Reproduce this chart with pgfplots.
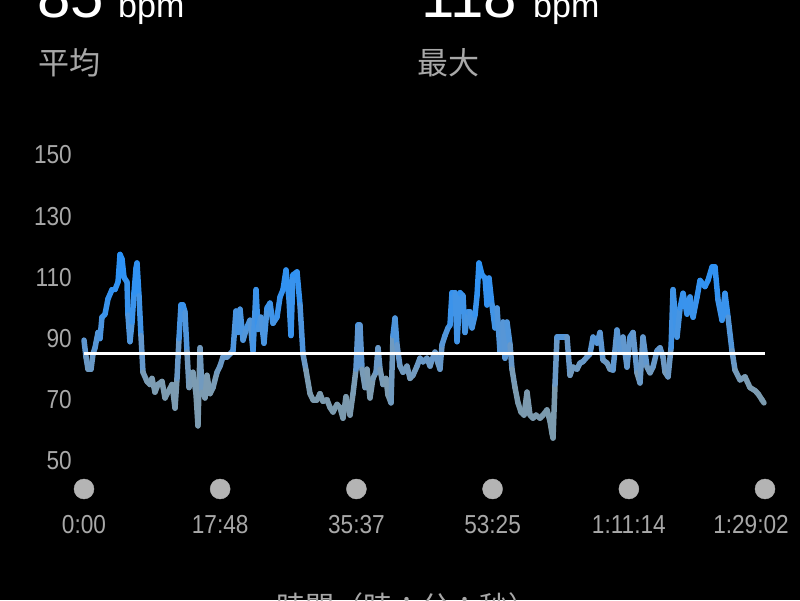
\documentclass[border=0pt]{standalone}
\usepackage{pgfplots}
\pgfplotsset{compat=1.18}
\usepackage{fontspec}
\setmainfont{Liberation Sans}
\newfontfamily\condfont{Liberation Sans}[FakeStretch=0.87]
\newfontfamily\cjk{Noto Sans CJK JP}
\definecolor{lblgrey}{HTML}{A8A8A8}
\definecolor{dotgrey}{HTML}{B4B4B4}
\pgfplotsset{colormap={hr}{rgb255(0pt)=(120,150,165); rgb255(25pt)=(125,156,178); rgb255(35pt)=(100,152,205); rgb255(50pt)=(58,147,236); rgb255(68pt)=(40,145,248)}}
\begin{document}
\begin{tikzpicture}[x=1pt,y=1pt]
\useasboundingbox (0,0) rectangle (800,600);
\fill[black] (0,0) rectangle (800,600);
\clip (0,0) rectangle (800,600);
\node[anchor=base west, inner sep=0pt, text=white, font=\fontsize{60}{60}\selectfont] at (37,582) {85};
\node[anchor=base west, inner sep=0pt, text=white, font=\fontsize{34}{34}\selectfont] at (118,582) {bpm};
\node[anchor=base west, inner sep=0pt, text=white, font=\fontsize{60}{60}\selectfont] at (421,582) {118};
\node[anchor=base west, inner sep=0pt, text=white, font=\fontsize{34}{34}\selectfont] at (533,582) {bpm};
\node[anchor=base west, inner sep=0pt, text=lblgrey, font=\cjk\fontsize{31}{31}\selectfont] at (38,525) {平均};
\node[anchor=base west, inner sep=0pt, text=lblgrey, font=\cjk\fontsize{31}{31}\selectfont] at (417,525) {最大};
\node[anchor=base west, inner sep=0pt, text=lblgrey, font=\cjk\fontsize{29}{29}\selectfont] at (276,-17) {時間（時：分：秒）};
\begin{axis}[
  at={(84pt,139pt)}, anchor=south west, scale only axis,
  width=681pt, height=306pt,
  xmin=0, xmax=89.033, ymin=50, ymax=150,
  clip=false,
  axis line style={draw=none},
  major tick length=0pt, tick style={draw=none},
  ytick={50,70,90,110,130,150},
  xtick={0,17.8,35.617,53.417,71.233,89.033},
  xticklabels={0:00,17:48,35:37,53:25,1:11:14,1:29:02\hspace*{28pt}},
  /pgf/number format/assume math mode=true,
  ticklabel style={font=\condfont\fontsize{26}{26}\selectfont, text=lblgrey, inner sep=0pt},
  xticklabel style={anchor=base, yshift=-72pt},
  yticklabel style={anchor=east, xshift=-12pt},
  point meta min=50, point meta max=118,
  colormap name=hr,
]
\addplot[mesh, point meta=y, shader=flat, line width=5.5pt, line cap=round] table {
x y
0 89.5
0.26 84
0.52 80
0.92 80
1.18 85
1.44 87
1.83 92
2.09 90
2.35 97
2.75 98
3.14 103
3.66 106
4.05 106
4.45 108.5
4.71 117.5
4.97 116
5.23 110
5.62 108.5
5.75 97.7
6.01 89
6.28 95.4
6.54 105
6.80 113
6.93 114.7
7.19 104
7.45 91
7.71 79
8.24 76
8.63 75
8.89 77
9.28 72.5
9.67 75
10.20 76
10.59 70.6
10.98 72.5
11.51 75
11.90 67.3
12.16 77
12.42 90
12.68 101
12.94 101
13.20 98.7
13.47 85.6
13.73 74
14.25 79
14.64 72
14.90 61.5
15.17 87
15.43 72.5
15.82 70.6
16.08 78
16.47 72
16.87 74
17.39 79
17.78 81
18.17 84
18.70 84
19.09 85
19.48 86
19.87 99
20.13 92
20.40 99.6
20.79 89.5
21.31 93.8
21.70 96
22.10 86
22.49 106
22.75 93
23.14 97
23.53 88.5
23.93 100
24.32 101.6
24.71 95
25.23 97
25.63 103.6
26.02 106
26.41 112.4
26.80 103
27.06 91
27.32 110.8
27.85 111.8
28.24 101
28.63 85
29.02 79.7
29.55 72
29.94 70
30.46 70
30.85 72
31.25 69.5
31.77 70
32.16 67.5
32.56 66
33.08 68.5
33.47 67.5
33.86 64
34.25 71
34.78 65
35.17 72
35.56 80
35.82 94.4
36.08 94.4
36.35 80
36.74 74
37.00 80
37.39 70.6
37.78 77
38.18 79
38.44 87
38.70 80
39.09 75
39.48 77
39.74 71.6
40.14 69
40.40 91
40.66 96.7
40.92 88
41.31 81
41.71 79
42.23 81
42.62 77
43.01 78
43.54 81
43.93 83.6
44.32 82.4
44.84 83.6
45.24 81
45.50 83
45.89 85.6
46.28 82
46.54 80
46.81 88
47.20 91
47.59 93.5
47.85 94.4
48.11 105
48.51 105
48.77 89
49.16 105
49.55 104
49.81 92
50.20 98.7
50.47 98.7
50.73 93.5
51.12 97.7
51.38 104
51.64 114.7
52.03 110.8
52.43 109.8
52.69 101
52.95 109.8
53.34 101
53.73 93.5
54.00 100
54.39 85.6
54.78 95.4
55.04 83.6
55.30 95.4
55.70 88
55.96 80
56.35 74
56.74 69
57.13 66
57.53 65
57.92 72.5
58.31 65
58.70 64
59.09 65
59.62 64
60.01 65
60.53 66.7
60.92 63
61.19 59
61.32 57.5
61.58 75
61.84 90.5
62.23 90.5
62.76 90.5
63.15 90.5
63.54 78
63.93 80.7
64.45 80
64.85 82
65.24 82.5
65.76 84
66.15 85
66.55 90.5
67.07 88.5
67.46 92
67.85 83
68.38 82
68.77 80
69.16 79.7
69.68 92.8
70.08 86
70.47 90.5
70.99 80.7
71.38 90.5
71.78 92
72.30 78.8
72.69 75.5
73.08 90.5
73.61 80.7
74.00 78.8
74.39 80.7
74.91 86
75.31 87
75.70 84
75.96 79
76.36 77.5
76.75 87
77.01 106
77.53 90.5
77.93 100
78.32 104.8
78.84 98
79.23 103.6
79.63 97
80.15 103.6
80.54 109
81.19 107
81.58 109
82.11 113.4
82.50 113.4
82.89 102.6
83.41 96
83.80 104.8
84.20 97
84.72 86
85.11 79.7
85.77 76.5
86.42 77.5
87.07 74
87.73 73
88.12 72
88.64 70
88.90 69
};
\addplot[white, line width=3pt] coordinates {(0,85) (89.033,85)};
\addplot[only marks, mark=*, mark size=10pt, color=dotgrey] coordinates {(0,40.85) (17.8,40.85) (35.617,40.85) (53.417,40.85) (71.233,40.85) (89.033,40.85)};
\end{axis}
\end{tikzpicture}
\end{document}
